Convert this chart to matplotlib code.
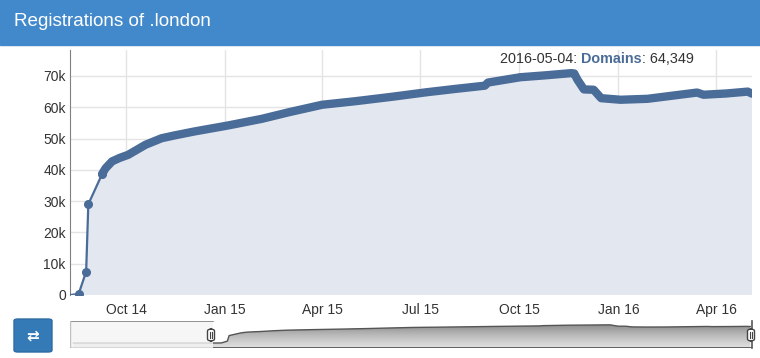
import numpy as np
import pandas as pd
import matplotlib
matplotlib.use('Agg')
import matplotlib.pyplot as plt
import matplotlib.dates as mdates
from matplotlib.patches import Rectangle, FancyBboxPatch

plt.rcParams['font.family'] = ['Liberation Sans', 'DejaVu Sans']

# registrations
dates = ['2014-02-24', '2014-08-10', '2014-08-18', '2014-08-25', '2014-08-27',
         '2014-09-09', '2014-09-12', '2014-09-18', '2014-09-25', '2014-10-03',
         '2014-10-19', '2014-11-03', '2014-11-15', '2014-12-04', '2015-01-04',
         '2015-02-04', '2015-03-01', '2015-04-01', '2015-05-01', '2015-06-06',
         '2015-07-07', '2015-08-01', '2015-08-30', '2015-09-02', '2015-10-02',
         '2015-10-25', '2015-11-18', '2015-11-21', '2015-11-24', '2015-11-30',
         '2015-12-09', '2015-12-16', '2016-01-03', '2016-01-28', '2016-02-20',
         '2016-03-14', '2016-03-20', '2016-04-10', '2016-04-30', '2016-05-04']
domains = [0, 0, 300, 7500, 29000,
           38800, 40500, 42700, 43800, 44800,
           48000, 50100, 51000, 52300, 54200,
           56300, 58400, 60800, 61900, 63400,
           64800, 65800, 66900, 67900, 69600,
           70200, 70900, 70800, 68800, 65700,
           65600, 62900, 62400, 62700, 63700,
           64700, 64000, 64400, 65000, 64349]

tick_labels = ['0', '10k', '20k', '30k', '40k', '50k', '60k', '70k']
tooltip = ['2016-05-04: ', 'Domains', ': 64,349']

d = pd.to_datetime(dates)
v = np.array(domains)

line_c = '#4a6c98'
W, H = 760, 358
fig = plt.figure(figsize=(W / 100, H / 100), dpi=100)

# header band
fig.patches.append(Rectangle((0, (H - 45) / H), 1, 45 / H, transform=fig.transFigure,
                             color='#4289cb', zorder=0))
fig.text(14 / W, (H - 22) / H, 'Registrations of .london', color='white',
         fontsize=13.6, va='center', ha='left')

# main chart
ax = fig.add_axes([70 / W, (H - 295) / H, 682 / W, 245 / H])
ax.fill_between(d, v, 0, color='#e3e7f0', zorder=1)
ax.plot(d, v, color=line_c, lw=1.6, zorder=3)
ax.plot(d[2:6], v[2:6], 'o', color=line_c, ms=5.5, zorder=4)
ax.plot(d[5:], v[5:], color=line_c, lw=6.0, solid_capstyle='round',
        solid_joinstyle='round', zorder=4)

ax.set_xlim(pd.Timestamp('2014-08-10'), pd.Timestamp('2016-05-04'))
ax.set_ylim(0, 78300)
ax.set_yticks(np.arange(0, 80000, 10000))
ax.set_yticklabels(tick_labels)
ax.xaxis.set_major_locator(mdates.MonthLocator(bymonth=[1, 4, 7, 10]))
ax.xaxis.set_major_formatter(mdates.DateFormatter('%b %y'))
ax.tick_params(axis='both', length=0, labelsize=10, colors='#333333')
ax.tick_params(axis='x', pad=6)
ax.tick_params(axis='y', pad=3)
ax.grid(True, color='#e4e4e4', lw=1, zorder=0)
ax.set_axisbelow(True)
for s in ['top', 'right', 'bottom']:
    ax.spines[s].set_visible(False)
ax.spines['left'].set_color('#808080')

# tooltip-like label, three pieces
t1 = fig.text(500 / W, (H - 59) / H, tooltip[0], fontsize=10.4, color='#333333', va='center')
t2 = ax.annotate(tooltip[1], xy=(1, 0), xycoords=t1, va='bottom', fontsize=10.4,
                 fontweight='bold', color=line_c)
t3 = ax.annotate(tooltip[2], xy=(1, 0), xycoords=t2, va='bottom', fontsize=10.4,
                 color='#333333')

# navigator
nav = fig.add_axes([70 / W, (H - 348) / H, 682 / W, 27 / H])
nx0, nx1 = pd.Timestamp('2014-02-20'), pd.Timestamp('2016-05-06')
nav.set_xlim(nx0, nx1)
nav.set_ylim(-19500, 86000)
poly = nav.fill_between(d, v, -19500, color='none', lw=0)
grad = np.linspace(0, 1, 50).reshape(-1, 1)
im = nav.imshow(grad, cmap='Greys', vmin=-0.6, vmax=2.2, aspect='auto',
                extent=[mdates.date2num(nx0), mdates.date2num(nx1), 86000, -19500],
                origin='upper', zorder=1)
im.set_clip_path(poly.get_paths()[0], transform=nav.transData)
nav.plot(d, v, color='#555555', lw=1, zorder=2)
nav.axhline(-19500, color='#555555', lw=2, zorder=2)
nav.axis('off')

# mask over the unselected part
sel = pd.Timestamp('2014-08-08')
nav.add_patch(Rectangle((mdates.date2num(nx0), -19500), mdates.date2num(sel) - mdates.date2num(nx0),
                        105500, facecolor='#f4f4f4', alpha=0.8, edgecolor='none', zorder=3))
nav.plot([nx0, sel], [85500, 85500], color='#808080', lw=1.2, zorder=4)
nav.plot([nx0, nx0], [-19500, 85500], color='#c0c0c0', lw=1, zorder=4)
nav.plot([nx1, nx1], [-19500, 86000], color='#555555', lw=1.2, zorder=4, clip_on=False)

# handles
for hx in [211, 751]:
    fig.patches.append(FancyBboxPatch(((hx - 3.5) / W, (H - 341) / H), 7 / W, 12 / H,
                                      boxstyle='round,pad=0,rounding_size=0.006',
                                      transform=fig.transFigure, facecolor='white',
                                      edgecolor='#444444', lw=1, zorder=5))
    for dx in [-1, 1]:
        fig.add_artist(plt.Line2D([(hx + dx) / W] * 2, [(H - 338) / H, (H - 332) / H],
                                  color='#444444', lw=0.8, zorder=6))

# button
fig.patches.append(FancyBboxPatch((14 / W, (H - 352) / H), 38 / W, 33 / H,
                                  boxstyle='round,pad=0,rounding_size=0.005',
                                  transform=fig.transFigure, facecolor='#337ab7',
                                  edgecolor='#2e6da4', lw=1, zorder=5))
fig.text(33 / W, (H - 336) / H, '\u21c4', color='white', fontsize=11, fontweight='bold',
         ha='center', va='center', family='DejaVu Sans', zorder=6)

fig.savefig('out.png', dpi=100)
